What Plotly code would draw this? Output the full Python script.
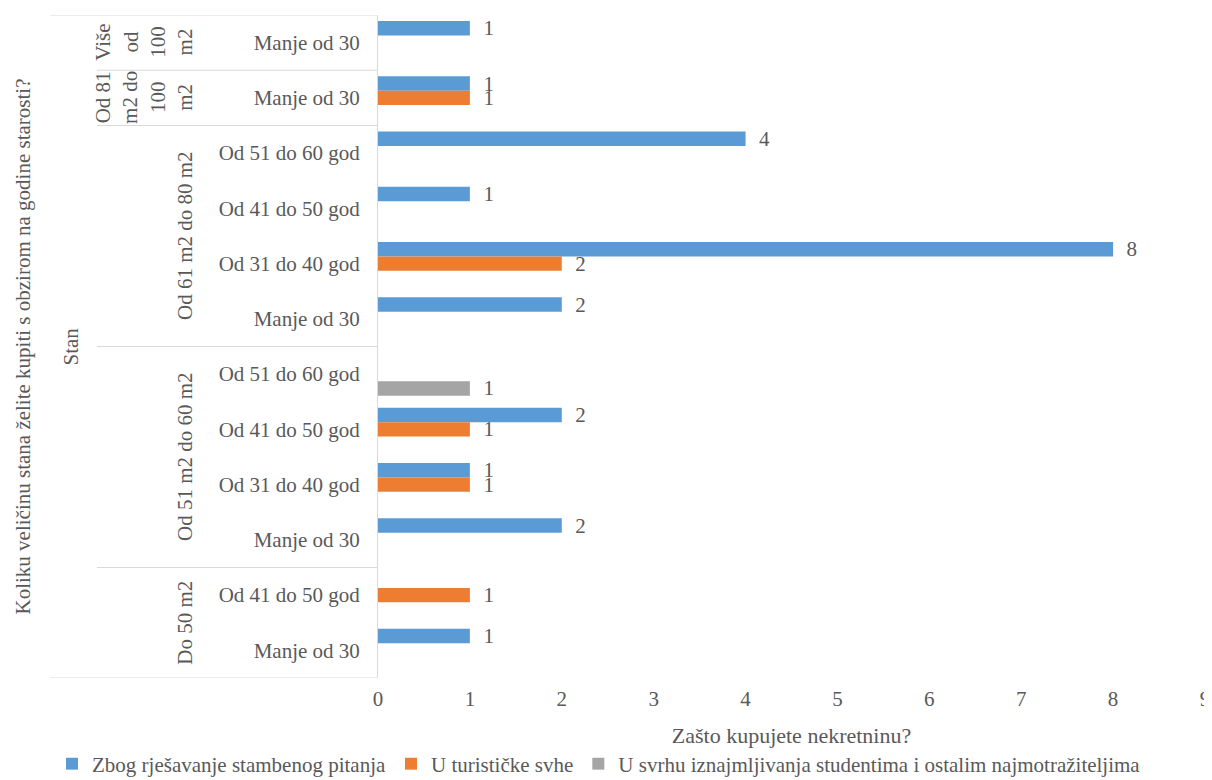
import plotly.graph_objects as go

# ---------------- data (top-to-bottom order as in the chart) ----------------
outer_label = "Stan"
sizes = [
    "Više od 100 m2",
    "Od 81 m2 do 100 m2",
    "Od 61 m2 do 80 m2", "Od 61 m2 do 80 m2", "Od 61 m2 do 80 m2", "Od 61 m2 do 80 m2",
    "Od 51 m2 do 60 m2", "Od 51 m2 do 60 m2", "Od 51 m2 do 60 m2", "Od 51 m2 do 60 m2",
    "Do 50 m2", "Do 50 m2",
]
ages = [
    "Manje od 30",
    "Manje od 30",
    "Od 51 do 60 god", "Od 41 do 50 god", "Od 31 do 40 god", "Manje od 30",
    "Od 51 do 60 god", "Od 41 do 50 god", "Od 31 do 40 god", "Manje od 30",
    "Od 41 do 50 god", "Manje od 30",
]
housing = [1, 1, 4, 1, 8, 2, None, 2, 1, 2, None, 1]
tourism = [None, 1, None, None, 2, None, None, 1, 1, None, 1, None]
renting = [None, None, None, None, None, None, 1, None, None, None, None, None]

series_names = [
    "Zbog rješavanje stambenog pitanja",
    "U turističke svhe",
    "U svrhu iznajmljivanja studentima i ostalim najmotražiteljima",
]
series_values = [housing, tourism, renting]
series_colors = ["#5B9BD5", "#ED7D31", "#A5A5A5"]

group_display = {
    "Više od 100 m2": "Više<br>od<br>100<br>m2",
    "Od 81 m2 do 100 m2": "Od 81<br>m2 do<br>100<br>m2",
}
x_ticks = list(range(0, 10))
x_title = "Zašto kupujete nekretninu?"
y_title = "Koliku veličinu stana želite kupiti s obzirom na godine starosti?"

# ---------------- layout helpers ----------------
FONT = "Liberation Serif, Times New Roman, serif"
TXT = "#595959"
LINE = "#D9D9D9"
OFF = 8                      # default page body margin around the figure
PAGE_W, PAGE_H = 1212, 780
W, H = PAGE_W - OFF, PAGE_H - OFF
PLOT_L, PLOT_R, PLOT_T, PLOT_B = 378, 1205, 15, 678   # page pixels
ML, MR = PLOT_L - OFF, W - (PLOT_R - OFF)
MT, MB = PLOT_T - OFF, H - (PLOT_B - OFF)
PW = W - ML - MR
PH = H - MT - MB


def px(x):
    """page pixel x -> paper x"""
    return (x - PLOT_L) / PW


def py(y):
    """page pixel y -> paper y"""
    return (PLOT_B - y) / PH


ids = [f"{s}|{a}|{i}" for i, (s, a) in enumerate(zip(sizes, ages))]

fig = go.Figure()
for name, vals, col in zip(series_names, series_values, series_colors):
    fig.add_trace(go.Bar(
        name=name,
        orientation="h",
        y=ids,
        x=vals,
        marker=dict(color=col, line=dict(width=0)),
        text=["" if v is None else "\u00a0\u00a0" + str(v) for v in vals],
        textposition="outside",
        constraintext="none",
        cliponaxis=False,
        textfont=dict(family=FONT, size=21, color=TXT),
        hoverinfo="x+name",
    ))

# group spans
groups = []
start = 0
for i in range(1, len(sizes) + 1):
    if i == len(sizes) or sizes[i] != sizes[start]:
        groups.append((sizes[start], start, i - 1))
        start = i

shapes = []
annotations = []
n = len(ids)
# top and bottom outer lines
for yv in (-0.5, n - 0.5):
    shapes.append(dict(type="line", xref="paper", yref="y", x0=px(50), x1=0,
                       y0=yv, y1=yv, line=dict(color=LINE, width=1)))
for gi, (g, a, b) in enumerate(groups):
    if gi > 0:
        shapes.append(dict(type="line", xref="paper", yref="y", x0=px(97), x1=0,
                           y0=a - 0.5, y1=a - 0.5, line=dict(color=LINE, width=1)))
    label = group_display.get(g, g)
    annotations.append(dict(
        text=label, xref="paper", yref="y", x=px(199), xanchor="right",
        y=(a + b) / 2, yanchor="middle", textangle=-90, showarrow=False,
        align="center", font=dict(family=FONT, size=21, color=TXT),
    ))

annotations.append(dict(
    text=outer_label, xref="paper", yref="y", x=px(70), xanchor="center",
    y=(n - 1) / 2, yanchor="middle", textangle=-90, showarrow=False,
    font=dict(family=FONT, size=21, color=TXT),
))
annotations.append(dict(
    text=y_title, xref="paper", yref="y", x=px(22), xanchor="center",
    y=(n - 1) / 2, yanchor="middle", textangle=-90, showarrow=False,
    font=dict(family=FONT, size=21, color=TXT),
))

fig.update_layout(
    width=W, height=H, autosize=False,
    margin=dict(l=ML, r=MR, t=MT, b=MB, autoexpand=False),
    paper_bgcolor="white", plot_bgcolor="white",
    barmode="group", bargap=0.22, bargroupgap=0,
    font=dict(family=FONT, size=21, color=TXT),
    shapes=shapes, annotations=annotations,
    showlegend=True,
    legend=dict(
        orientation="h", xref="paper", yref="paper",
        x=px(52), xanchor="left", y=py(764), yanchor="middle",
        font=dict(family=FONT, size=21, color=TXT),
        bgcolor="rgba(0,0,0,0)",
    ),
    xaxis=dict(
        range=[0, 9], tickvals=x_ticks, ticktext=[str(t) for t in x_ticks],
        showgrid=False, zeroline=False, showline=False, ticks="",
        tickfont=dict(family=FONT, size=21, color=TXT),
        ticklabelstandoff=6, automargin=False, ticklabeloverflow="allow",
        title=dict(text=x_title, font=dict(family=FONT, size=22, color=TXT), standoff=17),
        fixedrange=True,
    ),
    yaxis=dict(
        type="category", categoryorder="array", categoryarray=ids,
        range=[n - 0.5, -0.5],
        tickvals=ids, ticktext=ages,
        showgrid=False, zeroline=False, showline=True, linecolor=LINE, linewidth=1,
        ticks="", ticklabelstandoff=13, automargin=False,
        tickfont=dict(family=FONT, size=21, color=TXT),
        fixedrange=True,
    ),
)

fig.write_html("out.html")
